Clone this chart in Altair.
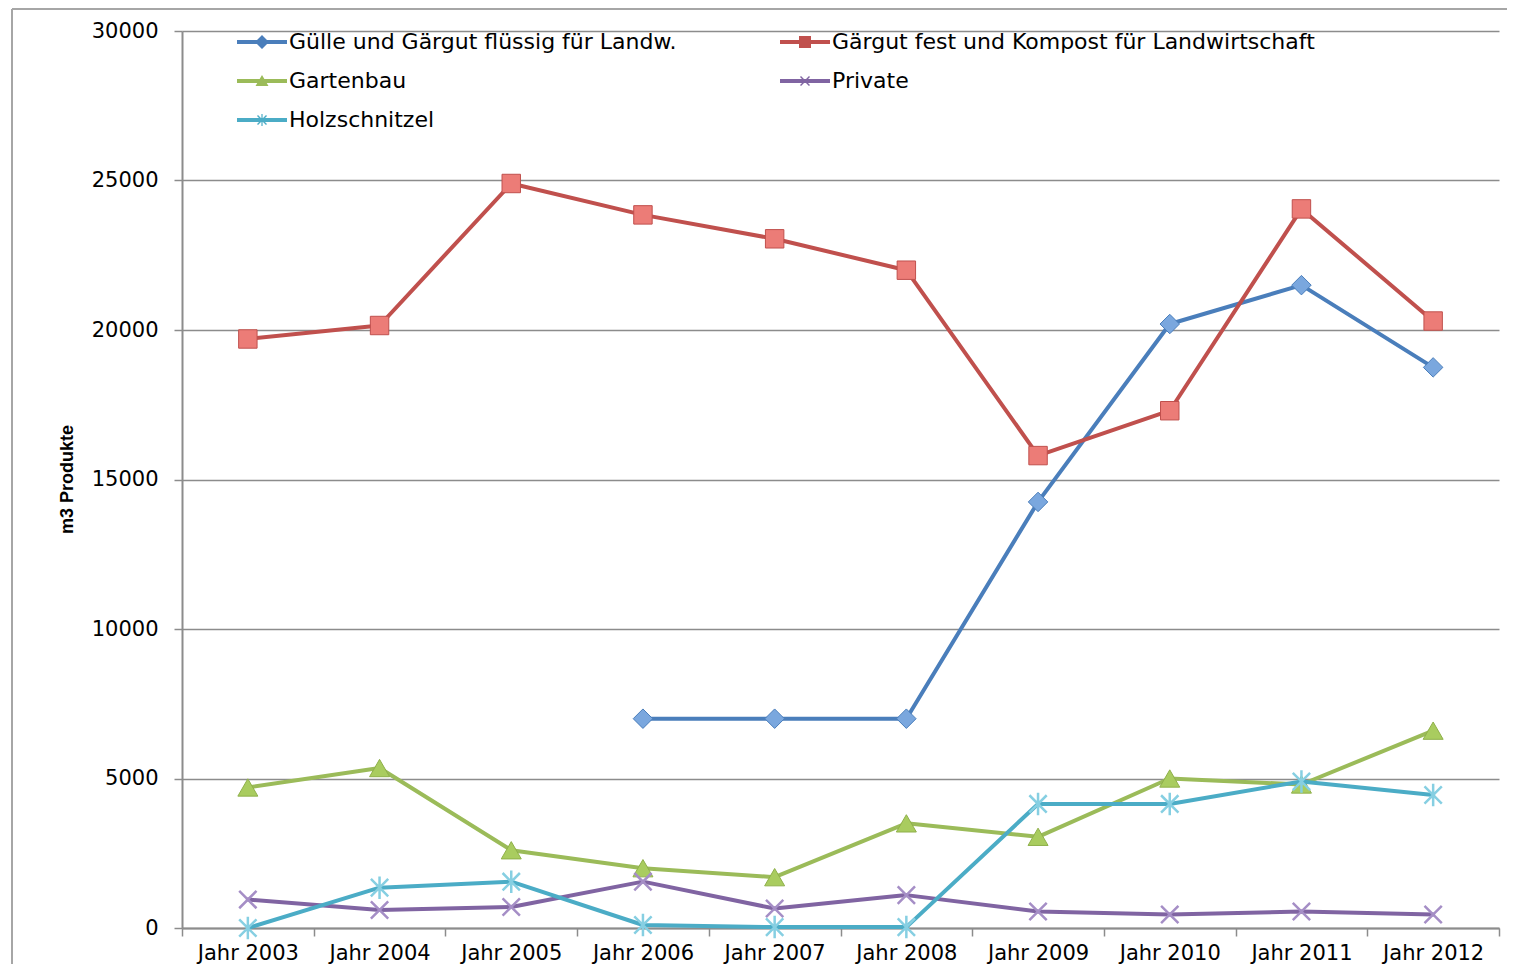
import altair as alt
import pandas as pd

years = ["Jahr 2003", "Jahr 2004", "Jahr 2005", "Jahr 2006", "Jahr 2007",
         "Jahr 2008", "Jahr 2009", "Jahr 2010", "Jahr 2011", "Jahr 2012"]
series_names = [
    "Gülle und Gärgut flüssig für Landw.",
    "Gärgut fest und Kompost für Landwirtschaft",
    "Gartenbau",
    "Private",
    "Holzschnitzel",
]
guelle = [None, None, None, 7000, 7000, 7000, 14250, 20200, 21500, 18750]
gaergut = [19700, 20150, 24900, 23850, 23050, 22000, 15800, 17300, 24050, 20300]
gartenbau = [4700, 5350, 2600, 2000, 1700, 3500, 3050, 5000, 4800, 6600]
private = [950, 600, 700, 1550, 650, 1100, 550, 450, 550, 450]
holz = [0, 1350, 1550, 100, 30, 30, 4150, 4150, 4900, 4450]
y_ticks = [0, 5000, 10000, 15000, 20000, 25000, 30000]

line_colors = ["#4a7ebb", "#c0504d", "#9bbb59", "#8064a2", "#4bacc6"]
marker_fills = ["#7aa7de", "#ec7c77", "#a9cc5f", "#a58ec6", "#86cfe2"]
marker_strokes = ["#4a7ebb", "#c0504d", "#8fb04a", "#a58ec6", "#86cfe2"]

X_PATH = "M-1,-1L1,1M-1,1L1,-1"
AST_PATH = "M-1,-1L1,1M-1,1L1,-1M0,-1.3L0,1.3"
marker_shapes = ["diamond", "square", "triangle-up", X_PATH, AST_PATH]
marker_sizes = [380, 340, 400, 300, 300]
marker_filled = [True, True, True, False, False]

# legend symbols: line segment + marker (unit = 10px at symbol size 400)
LINE = "M-2.5,-0.2H2.5V0.2H-2.5Z"
legend_paths = [
    LINE + "M0,-0.7L0.7,0L0,0.7L-0.7,0Z",
    LINE + "M-0.6,-0.6H0.6V0.6H-0.6Z",
    LINE + "M0,-0.6L0.65,0.5H-0.65Z",
    LINE + "M-0.5,-0.4L-0.4,-0.5L0.5,0.4L0.4,0.5Z M-0.5,0.4L0.4,-0.5L0.5,-0.4L-0.4,0.5Z",
    LINE + "M-0.5,-0.4L-0.4,-0.5L0.5,0.4L0.4,0.5Z M-0.5,0.4L0.4,-0.5L0.5,-0.4L-0.4,0.5Z M-0.06,-0.6H0.06V0.6H-0.06Z",
]

rows = []
for name, vals in zip(series_names, [guelle, gaergut, gartenbau, private, holz]):
    for yr, v in zip(years, vals):
        if v is not None:
            rows.append({"year": yr, "series": name, "value": v})
df = pd.DataFrame(rows)

FONT = "DejaVu Sans"
W, H = 1317, 897

x_enc = alt.X(
    "year:N", sort=years, bandPosition=0.5,
    scale=alt.Scale(type="band", domain=years, paddingInner=0, paddingOuter=0),
    axis=alt.Axis(title=None, labelAngle=0, tickBand="extent", labelPadding=6,
                  tickSize=8, tickWidth=1.5, tickColor="#8c8c8c",
                  domainColor="#8c8c8c", domainWidth=2, grid=False,
                  labelFont=FONT, labelFontSize=21, labelColor="black"),
)
y_enc = alt.Y(
    "value:Q",
    scale=alt.Scale(domain=[0, 30000], nice=False, zero=True),
    axis=alt.Axis(values=y_ticks, format="d", grid=True, gridColor="#8c8c8c",
                  gridWidth=1.5, domainColor="#8c8c8c", domainWidth=2,
                  tickColor="#8c8c8c", tickSize=8, tickWidth=1.5,
                  labelPadding=16, labelFont=FONT, labelFontSize=21,
                  labelColor="black",
                  title="m3 Produkte",
                  titleFont="Liberation Sans, Arial, sans-serif",
                  titleFontSize=18, titleFontWeight="bold", titleColor="black",
                  titleAngle=270, titleX=-115, titleY=448,
                  titleAlign="center", titleBaseline="middle"),
)

legend = alt.Legend(title=None, orient="none", legendX=69, legendY=0, columns=2,
                    direction="horizontal",
                    symbolSize=400, symbolStrokeWidth=0, symbolOpacity=1,
                    labelOffset=16, labelFont=FONT, labelFontSize=22,
                    labelColor="black", labelLimit=0, rowPadding=17,
                    columnPadding=103, padding=0)

legend_layer = alt.Chart(df).transform_filter("false").mark_point(
    filled=True, opacity=1
).encode(
    x=x_enc, y=y_enc,
    color=alt.Color("series:N", scale=alt.Scale(domain=series_names, range=line_colors), legend=legend),
    shape=alt.Shape("series:N", scale=alt.Scale(domain=series_names, range=legend_paths), legend=legend),
)

layers = [legend_layer]
for i, name in enumerate(series_names):
    sub = alt.Chart(df).transform_filter(alt.datum.series == name)
    layers.append(
        sub.mark_line(color=line_colors[i], strokeWidth=4, strokeJoin="round",
                      strokeCap="round").encode(x=x_enc, y=y_enc)
    )
    if marker_filled[i]:
        pt = sub.mark_point(shape=marker_shapes[i], size=marker_sizes[i], filled=True,
                            fill=marker_fills[i], stroke=marker_strokes[i],
                            strokeWidth=1, opacity=1)
    else:
        pt = sub.mark_point(shape=marker_shapes[i], size=marker_sizes[i], filled=False,
                            stroke=marker_strokes[i], strokeWidth=2.5, opacity=1)
    layers.append(pt.encode(x=x_enc, y=y_enc))

frame_df = pd.DataFrame({"k": [0]})
frame_left = alt.Chart(frame_df).mark_rule(color="#a6a6a6", strokeWidth=2).encode(
    x=alt.value(-170), y=alt.value(-22), y2=alt.value(H + 40))
frame_top = alt.Chart(frame_df).mark_rule(color="#a6a6a6", strokeWidth=2).encode(
    x=alt.value(-170), x2=alt.value(W + 10), y=alt.value(-22))
layers += [frame_left, frame_top]

chart = alt.layer(*layers).properties(
    width=W, height=H,
    padding={"left": 174, "top": 23, "right": 8, "bottom": 36},
    autosize=alt.AutoSizeParams(type="none"),
).configure_view(stroke=None)

chart.save("out.html", embed_options={"renderer": "svg", "actions": False})
